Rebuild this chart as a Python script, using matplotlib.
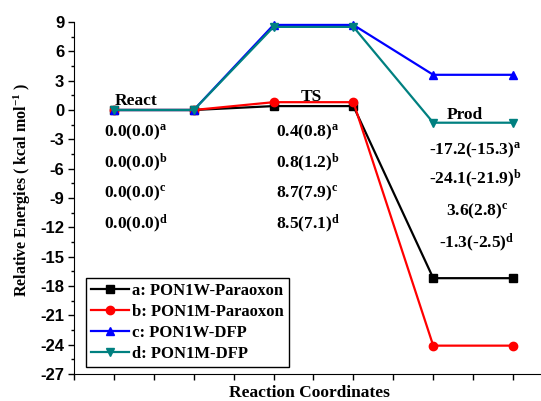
import matplotlib
matplotlib.use('Agg')
import matplotlib.pyplot as plt
from matplotlib.ticker import MultipleLocator, NullFormatter

plt.rcParams['mathtext.fontset'] = 'custom'
plt.rcParams['mathtext.rm'] = 'Liberation Serif:bold'
plt.rcParams['mathtext.bf'] = 'Liberation Serif:bold'
plt.rcParams['mathtext.it'] = 'Liberation Serif:bold'
plt.rcParams['axes.unicode_minus'] = False

# reaction coordinate positions and energies
x = [1, 3, 5, 7, 9, 11]
pon1w_paraoxon = [0, 0, 0.4, 0.4, -17.2, -17.2]
pon1m_paraoxon = [0, 0, 0.8, 0.8, -24.1, -24.1]
pon1w_dfp = [0, 0, 8.7, 8.7, 3.6, 3.6]
pon1m_dfp = [0, 0, 8.5, 8.5, -1.3, -1.3]

labels = ['a: PON1W-Paraoxon', 'b: PON1M-Paraoxon', 'c: PON1W-DFP', 'd: PON1M-DFP']
colors = ['black', 'red', 'blue', '#008080']
markers = ['s', 'o', '^', 'v']

react_vals = ['0.0(0.0)', '0.0(0.0)', '0.0(0.0)', '0.0(0.0)']
ts_vals = ['0.4(0.8)', '0.8(1.2)', '8.7(7.9)', '8.5(7.1)']
prod_vals = ['-17.2(-15.3)', '-24.1(-21.9)', '3.6(2.8)', '-1.3(-2.5)']
tags = ['a', 'b', 'c', 'd']

fig = plt.figure(figsize=(5.41, 4.01), dpi=100)
ax = fig.add_axes([74/541, 1-374/401, 1-74/541, 352/401])

for ys, lab, c, m in zip([pon1w_paraoxon, pon1m_paraoxon, pon1w_dfp, pon1m_dfp], labels, colors, markers):
    ax.plot(x, ys, color=c, marker=m, markersize=6, lw=1.6, label=lab, clip_on=False)

ax.set_xlim(0, 11.7)
ax.set_ylim(-27, 9)
ax.yaxis.set_major_locator(MultipleLocator(3))
ax.yaxis.set_minor_locator(MultipleLocator(1.5))
ax.xaxis.set_major_locator(MultipleLocator(1))
ax.xaxis.set_major_formatter(NullFormatter())
ax.spines['top'].set_visible(False)
ax.spines['right'].set_visible(False)
ax.tick_params(axis='both', which='major', direction='out', length=4, width=1)
ax.tick_params(axis='y', which='minor', direction='out', length=2.5, width=1)
ax.tick_params(axis='y', pad=3)
for t in ax.get_yticklabels():
    t.set_fontfamily('Liberation Sans')
    t.set_fontweight('bold')
    t.set_fontsize(12)

serif = dict(family='Liberation Serif', weight='bold', fontsize=12.5)

ax.text(1.55, 0.9, 'React', ha='center', va='center', **serif)
ax.text(5.95, 1.3, 'TS', ha='center', va='center', **serif)
ax.text(9.8, -0.55, 'Prod', ha='center', va='center', **serif)

row_y = [-2.25, -5.35, -8.5, -11.65]
for v, t, yy in zip(react_vals, tags, row_y):
    ax.text(0.75, yy, v + r'$^{' + t + '}$', ha='left', va='center', **serif)
for v, t, yy in zip(ts_vals, tags, row_y):
    ax.text(5.07, yy, v + r'$^{' + t + '}$', ha='left', va='center', **serif)
prod_x = [8.9, 8.9, 9.33, 9.15]
prod_y = [-4.1, -7.0, -10.4, -13.6]
for v, t, xx, yy in zip(prod_vals, tags, prod_x, prod_y):
    ax.text(xx, yy, v + r'$^{' + t + '}$', ha='left', va='center', **serif)

leg = ax.legend(loc='lower left', bbox_to_anchor=(0.025, 0.02), borderaxespad=0,
                fancybox=False, edgecolor='black', framealpha=1, handlelength=2.3,
                handletextpad=0.2, labelspacing=0.3, borderpad=0.3,
                prop=dict(family='Liberation Serif', weight='bold', size=12))
leg.get_frame().set_linewidth(1)

ax.set_ylabel(r'Relative Energies ( kcal mol$^{-1}$ )', family='Liberation Serif',
              weight='bold', fontsize=11.5, va='center')
ax.yaxis.set_label_coords(-0.111, 0.523)
ax.set_xlabel('Reaction Coordinates', family='Liberation Serif', weight='bold',
              fontsize=12.5, va='center')
ax.xaxis.set_label_coords(0.505, -0.053)

fig.savefig('out.png', dpi=100)
